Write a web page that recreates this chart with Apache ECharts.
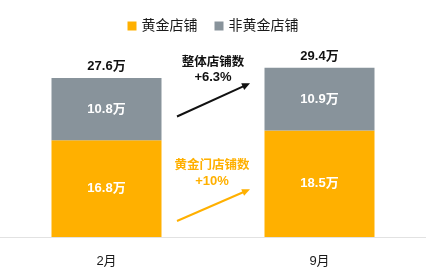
<!DOCTYPE html>
<html><head><meta charset="utf-8">
<script src="https://cdn.jsdelivr.net/npm/echarts@6/dist/echarts.min.js"></script>
<style>html,body{margin:0;padding:0;background:#fff}#c{width:426px;height:277px}</style>
</head><body><div id="c"></div>
<script>
const categories = ['2月', '9月'];
const goldStores = [16.8, 18.5];
const nonGoldStores = [10.8, 10.9];
const totals = [27.6, 29.4];
const seriesNames = ['黄金店铺', '非黄金店铺'];
const annotations = [['整体店铺数', '+6.3%'], ['黄金门店铺数', '+10%']];

const FONT = '"Liberation Sans", "Noto Sans CJK SC", sans-serif';
const ORANGE = '#FFB000';
const GRAY = '#88939B';

function arrow(x1, y1, x2, y2, color) {
  const dx = x2 - x1, dy = y2 - y1, L = Math.hypot(dx, dy);
  const ux = dx / L, uy = dy / L, px = -uy, py = ux;
  const len = 8, hw = 3.6;
  const bx = x2 - ux * len, by = y2 - uy * len;
  return [
    {type: 'line', shape: {x1: x1, y1: y1, x2: x2 - ux * 5, y2: y2 - uy * 5}, style: {stroke: color, lineWidth: 2}},
    {type: 'polygon', shape: {points: [[x2, y2], [bx + px * hw, by + py * hw], [bx - px * hw, by - py * hw]]}, style: {fill: color}}
  ];
}

const chart = echarts.init(document.getElementById('c'), null, {renderer: 'canvas'});
chart.setOption({
  animation: false,
  textStyle: {fontFamily: FONT},
  legend: {
    data: seriesNames, top: 14, left: 'center', icon: 'rect', itemWidth: 9, itemHeight: 9,
    itemGap: 17, textStyle: {fontSize: 14, color: '#1a1a1a', fontFamily: FONT}
  },
  grid: {left: 0, right: 0, top: 35.4, bottom: 40},
  xAxis: {
    type: 'category', data: categories,
    axisLine: {lineStyle: {color: '#E2E2E2', width: 1}}, axisTick: {show: false},
    axisLabel: {color: '#1a1a1a', fontSize: 13, margin: 18, fontFamily: FONT}
  },
  yAxis: {type: 'value', min: 0, max: 35, show: false, splitLine: {show: false}},
  series: [
    {name: seriesNames[0], type: 'bar', stack: 's', data: goldStores, barWidth: 110,
     itemStyle: {color: ORANGE},
     label: {show: true, position: 'inside', color: '#fff', fontWeight: 'bold', fontSize: 13, fontFamily: FONT,
       formatter: p => p.value + '万'}},
    {name: seriesNames[1], type: 'bar', stack: 's', data: nonGoldStores, barWidth: 110,
     itemStyle: {color: GRAY},
     label: {show: true, position: 'inside', color: '#fff', fontWeight: 'bold', fontSize: 13, fontFamily: FONT,
       formatter: p => p.value + '万'}},
    {name: 'total', type: 'bar', data: totals, barWidth: 110, barGap: '-100%', z: 0,
     itemStyle: {color: 'rgba(0,0,0,0)'}, silent: true,
     label: {show: true, position: 'top', distance: 5, color: '#111', fontWeight: 'bold', fontSize: 13, fontFamily: FONT,
       formatter: p => p.value + '万'}}
  ],
  graphic: [
    {type: 'text', x: 213, y: 63, style: {text: annotations[0][0], fill: '#111', font: 'bold 12.5px ' + FONT, textAlign: 'center', textVerticalAlign: 'middle'}},
    {type: 'text', x: 213, y: 77.5, style: {text: annotations[0][1], fill: '#111', font: 'bold 13px ' + FONT, textAlign: 'center', textVerticalAlign: 'middle'}},
    {type: 'text', x: 212, y: 166, style: {text: annotations[1][0], fill: ORANGE, font: 'bold 12.5px ' + FONT, textAlign: 'center', textVerticalAlign: 'middle'}},
    {type: 'text', x: 212, y: 181, style: {text: annotations[1][1], fill: ORANGE, font: 'bold 13px ' + FONT, textAlign: 'center', textVerticalAlign: 'middle'}}
  ].concat(arrow(177, 116.5, 250, 83.3, '#111'), arrow(177, 221, 250, 189.3, ORANGE))
});
</script></body></html>
